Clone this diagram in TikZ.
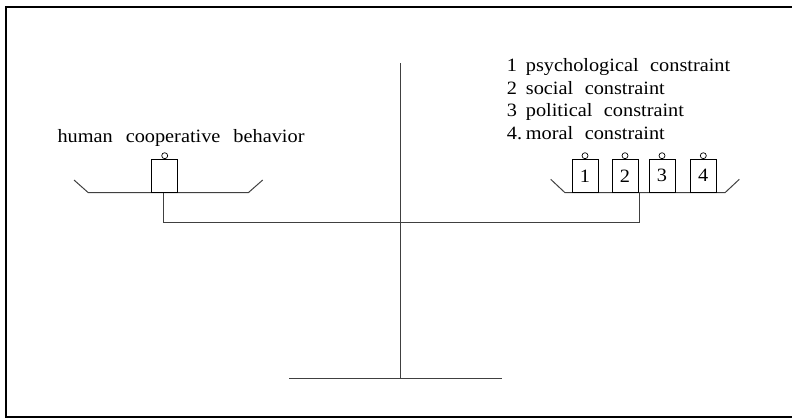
\documentclass[tikz,border=0pt]{standalone}
\usepackage{fontspec}
\setmainfont{Liberation Serif}[FakeStretch=1.08]
\begin{document}
\begin{tikzpicture}[x=1pt,y=-1pt,
  lbl/.style={anchor=base west,inner sep=0pt,
    font=\fontsize{18.8}{22.5}\selectfont},
  weight/.style={draw=black,line width=0.8pt,minimum width=26pt,minimum height=33pt,
    inner sep=0pt,anchor=south,font=\fontsize{18.8}{22.5}\selectfont},
  bar/.style={draw=black!75,line width=1pt},
  ring/.style={draw=black,line width=0.7pt}]
\useasboundingbox (0,0) rectangle (792,418);
\draw[line width=2pt] (6.3,6.5) rectangle (805,416.7);
% coordinates
\coordinate (postTop) at (400.7,63.3);
\coordinate (postBot) at (400.7,378.3);
\coordinate (baseL) at (289.3,378.3);
\coordinate (baseR) at (502.3,378.3);
\coordinate (lpTipL) at (74,180);
\coordinate (lpL) at (88.3,192.7);
\coordinate (lpR) at (248.3,192.7);
\coordinate (lpTipR) at (262.7,180);
\coordinate (rpTipL) at (550.7,179.3);
\coordinate (rpL) at (565,192.7);
\coordinate (rpR) at (725,192.7);
\coordinate (rpTipR) at (739.3,179.3);
\coordinate (lHang) at (163,192.7);
\coordinate (rHang) at (639.3,192.7);
\coordinate (lBeam) at (163,222.8);
\coordinate (rBeam) at (639.3,222.8);
% stand
\draw[bar] (postTop) -- (postBot);
\draw[bar] (baseL) -- (baseR);
% beam and hangers
\draw[bar] (lHang) -- (lBeam) -- (rBeam) -- (rHang);
% pans
\draw[bar] (lpTipL) -- (lpL) -- (lpR) -- (lpTipR);
\draw[bar] (rpTipL) -- (rpL) -- (rpR) -- (rpTipR);
% weights
\node[weight] (w0) at (164.7,192.7) {};
\node[weight] (w1) at (585,192.7) {1};
\node[weight] (w2) at (625,192.7) {2};
\node[weight] (w3) at (662,192.7) {3};
\node[weight] (w4) at (703.3,192.7) {4};
\foreach \w in {w0,w1,w2,w3,w4}
  \draw[ring] ([yshift=3.2pt]\w.north) circle[radius=3pt];
% labels
\node[lbl] (hcb) at (57.3,142.7) {\spaceskip=13pt\relax human cooperative behavior};
\node[lbl] (c1) at (506.7,71.7) {\spaceskip=11.5pt\relax\makebox[19pt][l]{1}psychological constraint};
\node[lbl] (c2) at (506.7,94.3) {\spaceskip=11.5pt\relax\makebox[19pt][l]{2}social constraint};
\node[lbl] (c3) at (506.7,116.7) {\spaceskip=11.5pt\relax\makebox[19pt][l]{3}political constraint};
\node[lbl] (c4) at (506.7,139.3) {\spaceskip=11.5pt\relax\makebox[19pt][l]{4.}moral constraint};
\end{tikzpicture}
\end{document}
